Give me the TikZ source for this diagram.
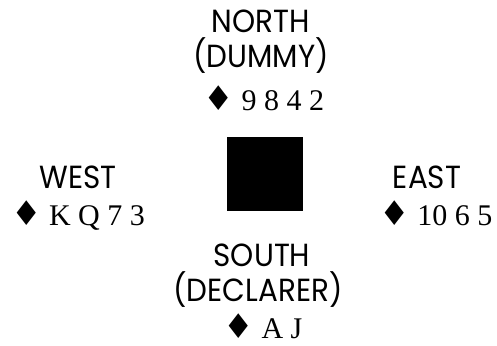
\documentclass[tikz,border=0pt]{standalone}
\usepackage{fontspec}
\newfontfamily\headfont{Poppins}[FakeStretch=0.92]
\newfontfamily\cardfont{Liberation Serif}
\newfontfamily\suitfont{DejaVu Sans}
\newcommand{\dia}{{\suitfont\fontsize{34}{34}\selectfont ♦}}
\begin{document}
\begin{tikzpicture}[x=1pt,y=-1pt,
  head/.style={font=\headfont\fontsize{32}{32}\selectfont, inner sep=0pt, anchor=base},
  cards/.style={font=\cardfont\fontsize{30}{30}\selectfont, inner sep=0pt, anchor=base},
  tablebox/.style={fill=black, draw=none, minimum width=76pt, minimum height=74pt, inner sep=0pt}]
\useasboundingbox (0,0) rectangle (497,345);
\node[tablebox] (table) at (265,174) {};
\node[head] (north) at (261,33) {NORTH};
\node[head] (dummy) at (261,67) {(DUMMY)};
\node[cards] (ncards) at (264,110) {\dia\ 9 8 4 2};
\node[head] (west) at (78,188) {WEST};
\node[cards] (wcards) at (78,225) {\dia\ K Q 7 3};
\node[head] (east) at (427,188) {EAST};
\node[cards] (ecards) at (436,225) {\dia\ 10 6 5};
\node[head] (south) at (262,266) {SOUTH};
\node[head] (declarer) at (258,301) {(DECLARER)};
\node[cards] (scards) at (263,338) {\dia\ A J};
\end{tikzpicture}
\end{document}
